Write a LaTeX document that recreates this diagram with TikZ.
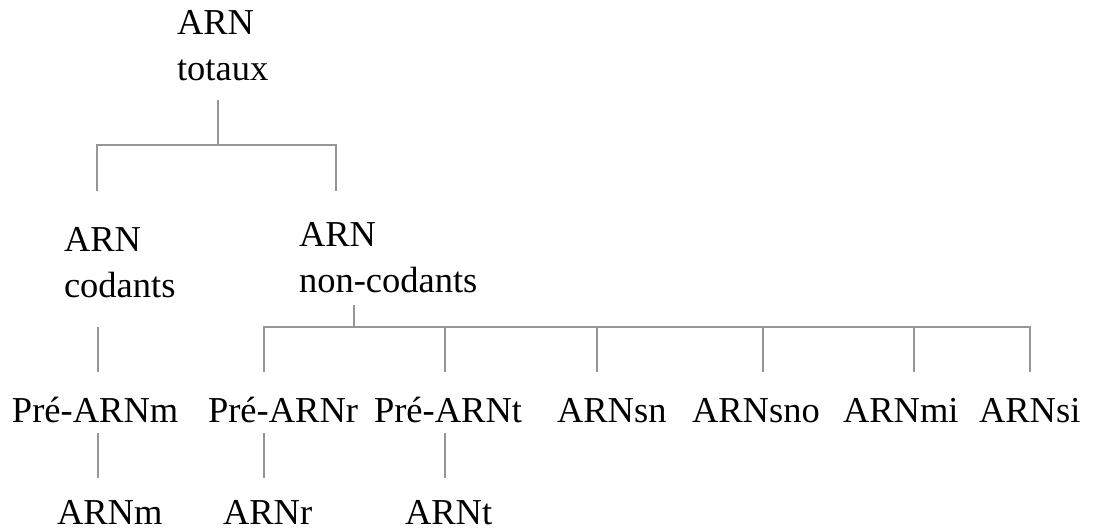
\documentclass[tikz,border=0pt]{standalone}
\usepackage{fontspec}
\setmainfont{Liberation Serif}
\definecolor{linegray}{RGB}{150,150,150}
\begin{document}
\begin{tikzpicture}[x=1pt,y=-1pt,
  lbl/.style={anchor=base west,inner sep=0pt,outer sep=0pt,align=left,
    font=\fontsize{36.5}{46}\selectfont},
  conn/.style={draw=linegray,line width=1.6pt}]
\useasboundingbox (0,0) rectangle (1094,529);
% nodes (base west = baseline of the last line)
\node[lbl] (tot)  at (177,81)  {ARN\\totaux};
\node[lbl] (cod)  at (64,297)  {ARN\\codants};
\node[lbl] (nonc) at (299,292) {ARN\\non-codants};
\node[lbl] (pm)   at (12,422)  {Pré-ARNm};
\node[lbl] (pr)   at (208,422) {Pré-ARNr};
\node[lbl] (pt)   at (374,422) {Pré-ARNt};
\node[lbl] (sn)   at (557,422) {ARNsn};
\node[lbl] (sno)  at (692,422) {ARNsno};
\node[lbl] (mi)   at (843,422) {ARNmi};
\node[lbl] (si)   at (979,422) {ARNsi};
\node[lbl] (m)    at (57,524)  {ARNm};
\node[lbl] (r)    at (223,524) {ARNr};
\node[lbl] (t)    at (405,524) {ARNt};
% connector ends, relative to the nodes
\path (tot.base west)  ++(41,19)   coordinate (totO);   % (218,100)
\path (cod.base west)  ++(33,-106) coordinate (codI);   % (97,191)
\path (nonc.base west) ++(37,-101) coordinate (noncI);  % (336,191)
\path (cod.base west)  ++(34,30)   coordinate (codO);   % (98,327)
\path (pm.base west)   ++(86,-50)  coordinate (pmI);    % (98,372)
\path (nonc.base west) ++(55,13)   coordinate (noncO);  % (354,305)
\path (pr.base west)   ++(56,-50)  coordinate (prI);    % (264,372)
\path (pt.base west)   ++(71,-50)  coordinate (ptI);    % (445,372)
\path (sn.base west)   ++(40,-50)  coordinate (snI);    % (597,372)
\path (sno.base west)  ++(71,-50)  coordinate (snoI);   % (763,372)
\path (mi.base west)   ++(71,-50)  coordinate (miI);    % (914,372)
\path (si.base west)   ++(51,-50)  coordinate (siI);    % (1030,372)
\path (pm.base west)   ++(86,11)   coordinate (pmO);    % (98,433)
\path (pr.base west)   ++(56,11)   coordinate (prO);    % (264,433)
\path (pt.base west)   ++(71,11)   coordinate (ptO);    % (445,433)
\path (m.base west)    ++(41,-46)  coordinate (mI);     % (98,478)
\path (r.base west)    ++(41,-46)  coordinate (rI);     % (264,478)
\path (t.base west)    ++(40,-46)  coordinate (tI);     % (445,478)
% level 1
\coordinate (bar1) at (0,145);
\draw[conn] (totO) -- (totO |- bar1);
\draw[conn] (codI) -- (codI |- bar1) -- (noncI |- bar1) -- (noncI);
% codants
\draw[conn] (codO) -- (pmI);
% non-codants
\coordinate (bar2) at (0,327);
\draw[conn] (noncO) -- (noncO |- bar2);
\draw[conn] (prI) -- (prI |- bar2) -- (siI |- bar2) -- (siI);
\foreach \c in {ptI,snI,snoI,miI} \draw[conn] (\c |- bar2) -- (\c);
% precursors to mature
\draw[conn] (pmO) -- (mI);
\draw[conn] (prO) -- (rI);
\draw[conn] (ptO) -- (tI);
\end{tikzpicture}
\end{document}
